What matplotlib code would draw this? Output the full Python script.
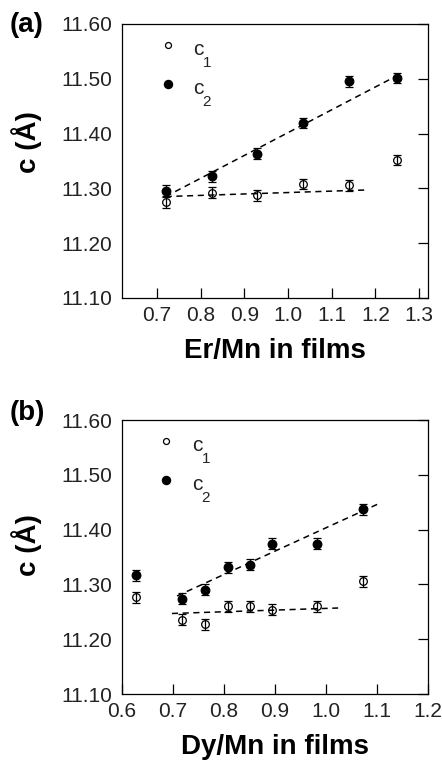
#!/usr/bin/env python3
"""
Lattice parameter c of the two phases (c1, c2) versus rare-earth/Mn ratio
in Er-Mn-O and Dy-Mn-O films.
"""

import matplotlib.pyplot as plt

plt.rcParams["font.family"] = ["Liberation Sans", "DejaVu Sans"]

# ---- panel (a): Er/Mn ----
er_x = [0.72, 0.825, 0.93, 1.035, 1.14, 1.25]
er_c1 = [11.275, 11.292, 11.287, 11.308, 11.306, 11.352]
er_c2 = [11.295, 11.322, 11.363, 11.420, 11.495, 11.502]
er_err = [0.011, 0.010, 0.010, 0.009, 0.010, 0.009]
er_fit_c1_x = [0.72, 1.18]
er_fit_c1_y = [11.285, 11.297]
er_fit_c2_x = [0.72, 1.26]
er_fit_c2_y = [11.285, 11.510]
er_xticks = [0.7, 0.8, 0.9, 1.0, 1.1, 1.2, 1.3]

# ---- panel (b): Dy/Mn ----
dy_x = [0.627, 0.717, 0.763, 0.807, 0.851, 0.894, 0.983, 1.073]
dy_c1 = [11.277, 11.236, 11.227, 11.260, 11.260, 11.254, 11.260, 11.306]
dy_c2 = [11.317, 11.274, 11.290, 11.331, 11.336, 11.374, 11.374, 11.437]
dy_err = [0.010, 0.010, 0.010, 0.010, 0.010, 0.010, 0.010, 0.010]
dy_fit_c1_x = [0.698, 1.024]
dy_fit_c1_y = [11.247, 11.257]
dy_fit_c2_x = [0.708, 1.105]
dy_fit_c2_y = [11.279, 11.448]
dy_xticks = [0.6, 0.7, 0.8, 0.9, 1.0, 1.1, 1.2]

yticks = [11.10, 11.20, 11.30, 11.40, 11.50, 11.60]


def draw_panel(ax, x, c1, c2, err, fit1, fit2, xlim, xticks, xlabel,
               legend_x, text_x, ylabel_y):
    # dashed guide lines
    ax.plot(fit1[0], fit1[1], color="black", lw=1.1, ls=(0, (4, 3)))
    ax.plot(fit2[0], fit2[1], color="black", lw=1.1, ls=(0, (4, 3)))

    ax.errorbar(x, c1, yerr=err, fmt="o", mfc="none", mec="black", ecolor="black",
                ms=5.5, mew=0.9, elinewidth=0.9, capsize=3, capthick=0.9)
    ax.errorbar(x, c2, yerr=err, fmt="o", mfc="black", mec="black", ecolor="black",
                ms=6.2, mew=0.9, elinewidth=0.9, capsize=3, capthick=0.9)

    # in-plot legend
    ax.plot([legend_x], [11.562], "o", mfc="none", mec="black", ms=4.3, mew=0.9)
    ax.plot([legend_x], [11.490], "o", mfc="black", mec="black", ms=5.8)
    for y0, sub in [(11.553, "1"), (11.482, "2")]:
        ax.text(text_x, y0, "c", fontsize=15, va="center", ha="left", color="#222222")
        ax.text(text_x + 0.022 * (xlim[1] - xlim[0]) / 0.7, y0 - 0.024, sub,
                fontsize=11, va="center", ha="left", color="#222222")

    ax.set_xlim(*xlim)
    ax.set_ylim(11.10, 11.60)
    ax.set_xticks(xticks)
    ax.set_xticklabels([f"{v:.1f}" for v in xticks])
    ax.set_yticks(yticks)
    ax.set_yticklabels([f"{v:.2f}" for v in yticks])

    ax.tick_params(axis="x", direction="in", length=7, width=0.9, top=False,
                   labelsize=15, pad=6, labelcolor="#222222")
    ax.tick_params(axis="y", direction="in", length=7, width=0.9, left=False,
                   right=True, labelsize=15, pad=7, labelcolor="#222222")
    for sp in ax.spines.values():
        sp.set_linewidth(0.9)

    ax.set_xlabel(xlabel, fontsize=20, fontweight="bold", labelpad=9)
    ax.set_ylabel("c (Å)", fontsize=20, fontweight="bold")
    ax.yaxis.set_label_coords(-0.262, ylabel_y)


fig = plt.figure(figsize=(4.42, 7.6), dpi=100)
ax_a = fig.add_axes([0.276, 0.608, 0.692, 0.3605])
ax_b = fig.add_axes([0.276, 0.0868, 0.692, 0.3605])

draw_panel(ax_a, er_x, er_c1, er_c2, er_err,
           (er_fit_c1_x, er_fit_c1_y), (er_fit_c2_x, er_fit_c2_y),
           (0.62, 1.32), er_xticks, "Er/Mn in films", 0.725, 0.782, 0.569)
draw_panel(ax_b, dy_x, dy_c1, dy_c2, dy_err,
           (dy_fit_c1_x, dy_fit_c1_y), (dy_fit_c2_x, dy_fit_c2_y),
           (0.60, 1.20), dy_xticks, "Dy/Mn in films", 0.686, 0.737, 0.544)

fig.text(0.022, 0.967, "(a)", fontsize=20, fontweight="bold", va="center")
fig.text(0.022, 0.457, "(b)", fontsize=20, fontweight="bold", va="center")

fig.savefig("out.png", dpi=100)
